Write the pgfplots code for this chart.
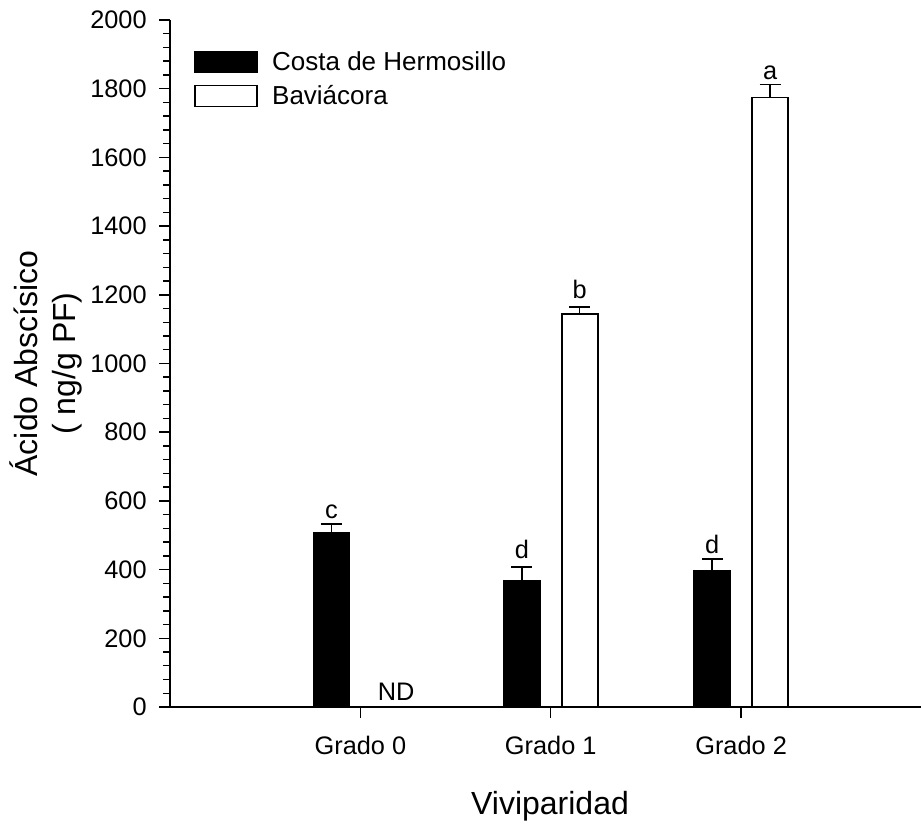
\documentclass[border=0pt]{standalone}
\usepackage{fontspec}
\setmainfont{Liberation Sans}
\usepackage{pgfplots}
\pgfplotsset{compat=1.18}
\usepackage{pgfplotstable}

\pgfplotstableread{
x y err
-0.152 507 26
0.848 368 39
1.848 396 35
}\costa
\pgfplotstableread{
x y err
1.152 1143 22
2.152 1774 38
}\bavia
\pgfplotstableread{
x y label
-0.152 550 c
0.848 433 d
1.152 1190 b
1.848 447 d
2.152 1827 a
0.188 17.5 ND
}\letters

\begin{document}
\begin{tikzpicture}
\begin{axis}[
  scale only axis, width=563.25pt, height=515.25pt,
  xmin=-1, xmax=2.945, ymin=0, ymax=2000,
  axis x line=bottom, axis y line=left,
  axis line style={-, line width=1.5pt},
  xtick={0,1,2}, xticklabels={Grado 0, Grado 1, Grado 2},
  ytick={0,200,...,2000}, minor y tick num=4,
  tick align=outside, major tick length=8pt, minor tick length=5pt,
  every tick/.style={black, line width=1.1pt},
  tick label style={font=\fontsize{19}{22}\selectfont},
  /pgf/number format/assume math mode=true,
  yticklabel style={/pgf/number format/1000 sep={}, xshift=-6pt},
  xticklabel style={yshift=-10pt},
  label style={font=\fontsize{24}{28}\selectfont},
  ylabel={Ácido Abscísico\\( ng/g PF)},
  ylabel style={align=center, at={(rel axis cs:-0.165,0.5)}, anchor=center},
  xlabel={Viviparidad},
  xlabel style={at={(rel axis cs:0.506,-0.157)}, anchor=base},
  clip=false,
  legend style={draw=none, fill=none, at={(rel axis cs:0.032,0.958)}, anchor=north west,
    inner sep=0pt, outer sep=0pt, font=\fontsize{19.5}{22}\selectfont, row sep=6pt,
    /tikz/every odd column/.style={column sep=9pt}},
  legend image code/.code={\draw[#1, line width=1.1pt] (0pt,-7.875pt) rectangle (46.5pt,7.875pt);},
  legend cell align=left,
]
\addplot[ybar, bar width=27pt, bar shift=0pt, fill=black, draw=black, line width=1.1pt,
  error bars/.cd, y dir=plus, y explicit,
  error bar style={line width=1.1pt, black},
  error mark options={rotate=90, black, mark size=7.9pt, line width=1.1pt}]
  table[x=x, y=y, y error=err] {\costa};
\addplot[ybar, bar width=27pt, bar shift=0pt, fill=white, draw=black, line width=1.3pt,
  error bars/.cd, y dir=plus, y explicit,
  error bar style={line width=1.1pt, black},
  error mark options={rotate=90, black, mark size=7.9pt, line width=1.1pt}]
  table[x=x, y=y, y error=err] {\bavia};
\legend{Costa de Hermosillo, Baviácora}
\addplot[draw=none, mark=none, forget plot, nodes near coords, point meta=explicit symbolic,
  nodes near coords style={anchor=base, inner sep=0pt, font=\fontsize{19}{22}\selectfont}]
  table[x=x, y=y, meta=label] {\letters};
\coordinate (bbl) at (rel axis cs:-0.2264,-0.1718);
\coordinate (btr) at (rel axis cs:1,1.0291);
\end{axis}
\pgfresetboundingbox
\path[use as bounding box] (bbl) rectangle (btr);
\end{tikzpicture}
\end{document}
